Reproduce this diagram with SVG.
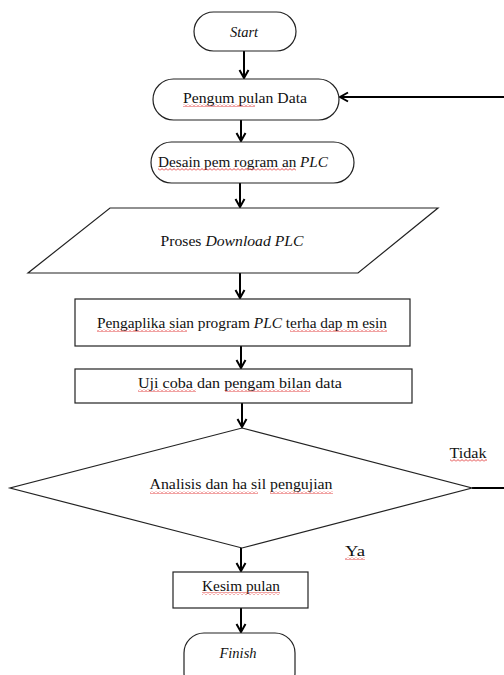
<svg xmlns="http://www.w3.org/2000/svg" width="504" height="675" viewBox="0 0 504 675">
  <style>
    .shape { fill: #ffffff; stroke: #222222; stroke-width: 1.2; }
    .txt { font-family: "Liberation Serif", "Times New Roman", serif; font-size: 14.5px; fill: #111111; text-anchor: middle; }
    .it { font-style: italic; }
    .flow { fill: none; stroke: #000000; stroke-width: 2; }
    .squiggle { fill: url(#wavy); }
  </style>
  <defs>
    <marker id="arrow" viewBox="0 0 12 12" refX="10" refY="6" markerWidth="12" markerHeight="12" markerUnits="userSpaceOnUse" orient="auto">
      <path d="M2,1.5 L10,6 L2,10.5" fill="none" stroke="#000000" stroke-width="2"/>
    </marker>
    <pattern id="wavy" x="0" y="0" width="4" height="3" patternUnits="userSpaceOnUse">
      <path d="M0,2.5 L2,0.5 L4,2.5" fill="none" stroke="#e03030" stroke-width="0.9"/>
    </pattern>
  </defs>

  <!-- connectors -->
  <g id="connectors">
    <line class="flow" x1="244" y1="51" x2="244" y2="78" marker-end="url(#arrow)"/>
    <line class="flow" x1="241" y1="120" x2="241" y2="141" marker-end="url(#arrow)"/>
    <line class="flow" x1="240" y1="183" x2="240" y2="207" marker-end="url(#arrow)"/>
    <line class="flow" x1="240" y1="273" x2="240" y2="298" marker-end="url(#arrow)"/>
    <line class="flow" x1="241" y1="346" x2="241" y2="368" marker-end="url(#arrow)"/>
    <line class="flow" x1="242" y1="403" x2="242" y2="427" marker-end="url(#arrow)"/>
    <line class="flow" x1="241" y1="548" x2="241" y2="571" marker-end="url(#arrow)"/>
    <line class="flow" x1="241" y1="608" x2="241" y2="632" marker-end="url(#arrow)"/>
    <!-- "Tidak" branch loops back to data collection (runs past the right edge) -->
    <line class="flow" x1="472" y1="488" x2="504" y2="488"/>
    <line class="flow" x1="504" y1="97" x2="340" y2="97" marker-end="url(#arrow)"/>
  </g>

  <g id="start">
    <rect class="shape" x="194" y="12" width="102" height="39" rx="19.5"/>
    <text class="txt it" x="244" y="37">Start</text>
  </g>

  <g id="pengumpulan-data">
    <rect class="shape" x="153" y="79" width="186" height="41" rx="20.5"/>
    <text class="txt" x="245" y="103" textLength="124" lengthAdjust="spacingAndGlyphs">Pengum pulan Data</text>
    <rect class="squiggle" x="183" y="104" width="72" height="3"/>
  </g>

  <g id="desain-pemrograman">
    <rect class="shape" x="151" y="142" width="203" height="41" rx="20.5"/>
    <text class="txt" x="243" y="167" textLength="170" lengthAdjust="spacingAndGlyphs">Desain pem rogram an <tspan class="it">PLC</tspan></text>
    <rect class="squiggle" x="158" y="168" width="138" height="3"/>
  </g>

  <g id="proses-download">
    <polygon class="shape" points="110,208 438,208 358,273 28,273"/>
    <text class="txt" x="232" y="246" textLength="143" lengthAdjust="spacingAndGlyphs">Proses <tspan class="it">Download PLC</tspan></text>
  </g>

  <g id="pengaplikasian">
    <rect class="shape" x="75" y="299" width="335" height="47"/>
    <text class="txt" x="242" y="328" textLength="290" lengthAdjust="spacingAndGlyphs">Pengaplika sian program  <tspan class="it">PLC</tspan> terha dap m esin</text>
    <rect class="squiggle" x="97" y="329" width="90" height="3"/>
    <rect class="squiggle" x="290" y="329" width="97" height="3"/>
  </g>

  <g id="uji-coba">
    <rect class="shape" x="75" y="369" width="337" height="34"/>
    <text class="txt" x="240" y="388" textLength="204" lengthAdjust="spacingAndGlyphs">Uji coba dan pengam bilan data</text>
    <rect class="squiggle" x="138" y="389" width="58" height="3"/>
    <rect class="squiggle" x="225" y="389" width="85" height="3"/>
  </g>

  <g id="analisis">
    <polygon class="shape" points="242,428 472,488 242,548 10,488"/>
    <text class="txt" x="241" y="489" textLength="183" lengthAdjust="spacingAndGlyphs">Analisis dan ha sil   pengujian</text>
    <rect class="squiggle" x="150" y="491" width="108" height="3"/>
    <rect class="squiggle" x="270" y="491" width="63" height="3"/>
  </g>

  <g id="label-tidak">
    <text class="txt" x="468" y="458" textLength="37" lengthAdjust="spacingAndGlyphs">Tidak</text>
    <rect class="squiggle" x="450" y="459" width="37" height="3"/>
  </g>

  <g id="label-ya">
    <text class="txt" x="355" y="556" textLength="20" lengthAdjust="spacingAndGlyphs">Ya</text>
    <rect class="squiggle" x="345" y="557" width="20" height="3"/>
  </g>

  <g id="kesimpulan">
    <rect class="shape" x="173" y="572" width="135" height="36"/>
    <text class="txt" x="241" y="591" textLength="78" lengthAdjust="spacingAndGlyphs">Kesim pulan</text>
    <rect class="squiggle" x="202" y="592" width="78" height="3"/>
  </g>

  <g id="finish">
    <rect class="shape" x="184" y="633" width="111" height="60" rx="20"/>
    <text class="txt it" x="238" y="658">Finish</text>
  </g>
</svg>
